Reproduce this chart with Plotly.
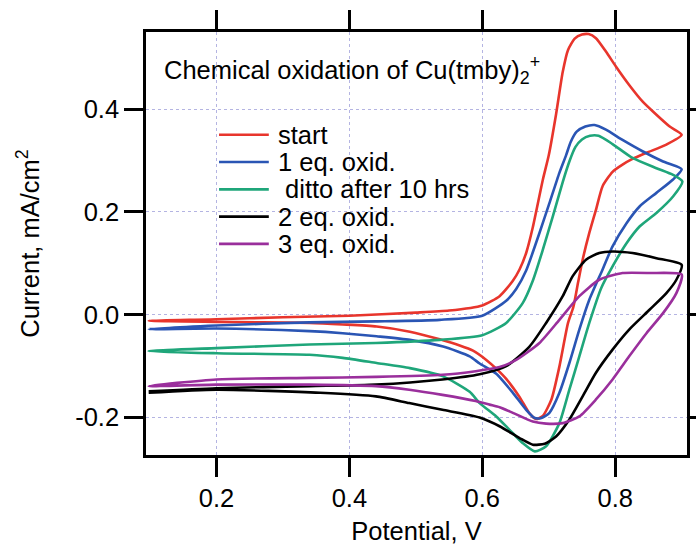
import plotly.graph_objects as go

# ---------------- data ----------------
series_names = ["start", "1 eq. oxid.", " ditto after 10 hrs", "2 eq. oxid.", "3 eq. oxid."]
series_colors = ["#e8352c", "#2a55b4", "#1fa67a", "#000000", "#9a2f9c"]

# each trace: forward sweep 0.1 -> 0.9 then reverse sweep 0.9 -> 0.1
red_E = [0.098, 0.2, 0.3, 0.4, 0.5, 0.55, 0.6, 0.626, 0.646, 0.656, 0.666, 0.676, 0.691, 0.700, 0.711,
         0.721, 0.729, 0.739, 0.750, 0.760, 0.771, 0.786, 0.801, 0.821, 0.841, 0.862, 0.882, 0.900,
         0.877, 0.847, 0.826, 0.811, 0.796, 0.781, 0.771, 0.761, 0.751, 0.744, 0.737, 0.729, 0.716,
         0.704, 0.691, 0.681, 0.671, 0.656, 0.636, 0.621, 0.606, 0.586, 0.566, 0.536, 0.491, 0.441,
         0.390, 0.340, 0.2, 0.098]
red_I = [-0.012, -0.009, -0.005, -0.002, 0.004, 0.008, 0.018, 0.036, 0.066, 0.088, 0.120, 0.170, 0.262, 0.310, 0.390,
         0.472, 0.515, 0.537, 0.545, 0.546, 0.538, 0.512, 0.483, 0.447, 0.415, 0.389, 0.366, 0.350,
         0.331, 0.315, 0.303, 0.292, 0.278, 0.250, 0.204, 0.159, 0.107, 0.062, 0.015, -0.016, -0.101,
         -0.165, -0.197, -0.203, -0.192, -0.160, -0.125, -0.105, -0.088, -0.070, -0.060, -0.048, -0.033, -0.023,
         -0.019, -0.016, -0.014, -0.012]

blue_E = [0.098, 0.2, 0.34, 0.44, 0.536, 0.6, 0.636, 0.651, 0.666, 0.686, 0.701, 0.716, 0.726, 0.733, 0.742,
          0.755, 0.769, 0.786, 0.811, 0.841, 0.872, 0.900,
          0.887, 0.862, 0.837, 0.817, 0.796, 0.781, 0.761, 0.746, 0.731, 0.716, 0.701, 0.689, 0.679,
          0.666, 0.646, 0.621, 0.596, 0.581, 0.541, 0.491, 0.441, 0.390, 0.340, 0.2, 0.098]
blue_I = [-0.028, -0.021, -0.015, -0.013, -0.010, -0.002, 0.027, 0.050, 0.086, 0.159, 0.217, 0.276, 0.310, 0.336, 0.356,
          0.366, 0.369, 0.360, 0.340, 0.318, 0.298, 0.283,
          0.263, 0.237, 0.211, 0.178, 0.133, 0.088, 0.029, -0.029, -0.094, -0.152, -0.191, -0.201, -0.201,
          -0.185, -0.152, -0.115, -0.095, -0.081, -0.062, -0.049, -0.042, -0.036, -0.032, -0.027, -0.028]

green_E = [0.098, 0.2, 0.34, 0.44, 0.536, 0.6, 0.636, 0.661, 0.676, 0.691, 0.706, 0.721, 0.731, 0.740, 0.750,
           0.762, 0.775, 0.796, 0.826, 0.862, 0.887, 0.901,
           0.887, 0.862, 0.837, 0.817, 0.796, 0.779, 0.761, 0.746, 0.731, 0.716, 0.696, 0.679, 0.661,
           0.641, 0.621, 0.596, 0.581, 0.541, 0.491, 0.441, 0.390, 0.340, 0.2, 0.098]
green_I = [-0.071, -0.065, -0.058, -0.055, -0.049, -0.040, -0.016, 0.023, 0.066, 0.126, 0.191, 0.258, 0.298, 0.326, 0.341,
           0.348, 0.348, 0.332, 0.305, 0.285, 0.272, 0.259,
           0.230, 0.198, 0.172, 0.139, 0.094, 0.052, -0.016, -0.081, -0.146, -0.211, -0.256, -0.266, -0.250,
           -0.224, -0.198, -0.172, -0.150, -0.120, -0.104, -0.094, -0.084, -0.078, -0.075, -0.071]

black_E = [0.098, 0.2, 0.34, 0.44, 0.54, 0.596, 0.636, 0.671, 0.696, 0.721, 0.736, 0.756, 0.776, 0.796, 0.826,
           0.862, 0.900,
           0.892, 0.877, 0.852, 0.821, 0.796, 0.771, 0.751, 0.731, 0.711, 0.694, 0.676, 0.656, 0.626,
           0.596, 0.54, 0.49, 0.44, 0.356, 0.2, 0.098]
black_I = [-0.149, -0.143, -0.139, -0.136, -0.126, -0.116, -0.100, -0.062, -0.016, 0.036, 0.075, 0.107, 0.120, 0.123, 0.120,
           0.110, 0.097,
           0.068, 0.042, 0.010, -0.029, -0.068, -0.113, -0.159, -0.204, -0.237, -0.251, -0.253, -0.240, -0.217,
           -0.200, -0.185, -0.172, -0.159, -0.152, -0.146, -0.152]

purple_E = [0.098, 0.2, 0.34, 0.44, 0.54, 0.59, 0.626, 0.651, 0.686, 0.716, 0.746, 0.776, 0.811, 0.852, 0.900,
            0.892, 0.872, 0.847, 0.821, 0.796, 0.771, 0.746, 0.721, 0.696, 0.676, 0.646, 0.626, 0.611,
            0.59, 0.54, 0.49, 0.44, 0.34, 0.2, 0.098]
purple_I = [-0.139, -0.126, -0.123, -0.121, -0.117, -0.110, -0.102, -0.088, -0.055, -0.010, 0.036, 0.068, 0.081, 0.081, 0.078,
            0.042, 0.003, -0.036, -0.081, -0.126, -0.165, -0.198, -0.211, -0.212, -0.208, -0.191, -0.180, -0.175,
            -0.168, -0.156, -0.146, -0.139, -0.136, -0.136, -0.139]

potentials = [red_E, blue_E, green_E, black_E, purple_E]
currents = [red_I, blue_I, green_I, black_I, purple_I]

x_tick_vals = [0.2, 0.4, 0.6, 0.8]
x_tick_text = ["0.2", "0.4", "0.6", "0.8"]
y_tick_vals = [-0.2, 0.0, 0.2, 0.4]
y_tick_text = ["-0.2", "0.0", "0.2", "0.4"]

title_text = "Chemical oxidation of Cu(tmby)<sub>2</sub><sup>+</sup>"
x_title = "Potential, V"
y_title = "Current, mA/cm<sup>2</sup>"

# ---------------- figure ----------------
FONT = "Liberation Sans, Arial, Helvetica, sans-serif"
FS = 25.5

fig = go.Figure()
for E, I, name, col in zip(potentials, currents, series_names, series_colors):
    fig.add_trace(go.Scatter(x=E, y=I, mode="lines", name=name,
                             line=dict(color=col, width=2.6, shape="spline", smoothing=0.6),
                             showlegend=False))

# hand-made legend (tight line spacing as in the reference)
leg_y0 = 0.757
leg_dy = 0.0645
shapes = []
annotations = []
for i, (name, col) in enumerate(zip(series_names, series_colors)):
    yy = leg_y0 - i * leg_dy
    shapes.append(dict(type="line", xref="paper", yref="paper", x0=0.135, x1=0.227, y0=yy, y1=yy,
                       line=dict(color=col, width=2.6)))
    annotations.append(dict(xref="paper", yref="paper", x=0.241, y=yy, xanchor="left", yanchor="middle",
                            text=name, showarrow=False, font=dict(family=FONT, size=FS, color="black")))

annotations.append(dict(xref="paper", yref="paper", x=0.029, y=0.91, xanchor="left", yanchor="middle",
                        text=title_text, showarrow=False, font=dict(family=FONT, size=FS, color="black")))

axis_common = dict(showline=True, linecolor="black", linewidth=2.5, mirror="ticks",
                   ticks="outside", ticklen=19, tickwidth=2.5, tickcolor="black",
                   showgrid=True, gridcolor="#b4b4e2", griddash="dot", gridwidth=1,
                   zeroline=False, automargin=False,
                   tickfont=dict(family=FONT, size=FS, color="black"))

fig.update_layout(
    width=696, height=545,
    margin=dict(l=146, r=9, t=32, b=90, autoexpand=False),
    paper_bgcolor="white", plot_bgcolor="white",
    font=dict(family=FONT, size=FS, color="black"),
    xaxis=dict(range=[0.094, 0.908], tickvals=x_tick_vals, ticktext=x_tick_text,
               title=dict(text=x_title, font=dict(family=FONT, size=FS), standoff=14), **axis_common),
    yaxis=dict(range=[-0.273, 0.550], tickvals=y_tick_vals, ticktext=y_tick_text,
               title=dict(text=y_title, font=dict(family=FONT, size=FS), standoff=29), **axis_common),
    shapes=shapes, annotations=annotations,
)

fig.write_html("out.html")
